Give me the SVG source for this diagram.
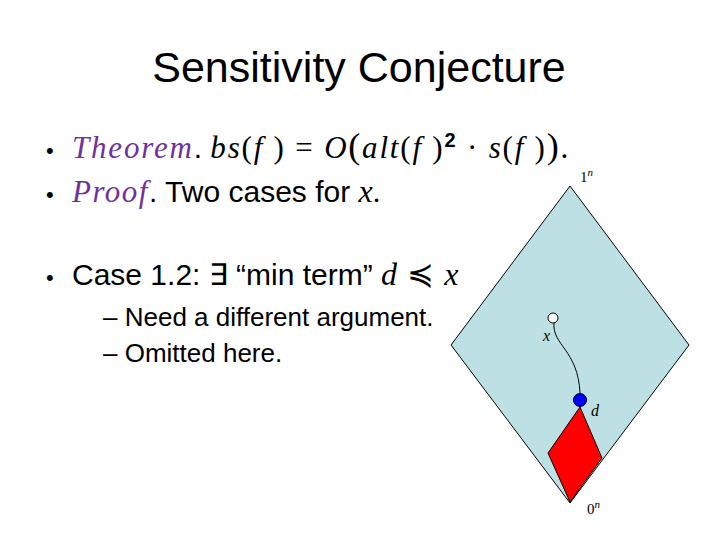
<svg xmlns="http://www.w3.org/2000/svg" width="720" height="540" viewBox="0 0 720 540">
<style>
.s{font-family:"Liberation Sans",Arial,sans-serif;fill:#000}
.m{font-family:"Liberation Serif","DejaVu Serif",serif;font-style:italic}
.r{font-family:"Liberation Serif","DejaVu Serif",serif}
.p{fill:#7030a0}
</style>
<rect width="720" height="540" fill="#fff"/>
<text class="s" x="359" y="82" font-size="43" text-anchor="middle">Sensitivity Conjecture</text>
<g font-size="30">
<text class="s" x="46" y="158" font-size="22">•</text>
<text x="72" y="158" font-size="31" letter-spacing="1.8"><tspan class="m p">Theorem</tspan><tspan class="s" font-size="30" letter-spacing="0">. </tspan><tspan class="m">bs</tspan><tspan class="r">(</tspan><tspan class="m">f </tspan><tspan class="r">) = </tspan><tspan class="m">O</tspan><tspan class="r" font-size="36">(</tspan><tspan class="m">alt</tspan><tspan class="r">(</tspan><tspan class="m">f </tspan><tspan class="r">)</tspan><tspan class="s" fill="#c00000" font-size="20" font-weight="bold" dy="-11">2</tspan><tspan class="r" dy="11"> · </tspan><tspan class="m">s</tspan><tspan class="r">(</tspan><tspan class="m">f </tspan><tspan class="r">)</tspan><tspan class="r" font-size="36">)</tspan><tspan class="r">.</tspan></text>
<text class="s" x="46" y="202" font-size="22">•</text>
<text x="72" y="202"><tspan class="m p" font-size="31" letter-spacing="1.5">Proof</tspan><tspan class="s">. Two cases for </tspan><tspan class="m" font-size="32">x</tspan><tspan class="r">.</tspan></text>
<text class="s" x="46" y="285" font-size="22">•</text>
<text x="72" y="285"><tspan class="s">Case 1.2: ∃ “min term” </tspan><tspan class="m" font-size="32">d</tspan><tspan font-family="DejaVu Sans" font-size="32"> ≼ </tspan><tspan class="m" font-size="32">x</tspan></text>
<text class="s" x="103" y="326" font-size="26">– Need a different argument.</text>
<text class="s" x="103" y="362" font-size="26">– Omitted here.</text>
</g>
<g id="lattice">
<polygon points="570,186 689,345 570,503 451,345" fill="#bde0e5" stroke="#000" stroke-width="1"/>
</g>
<g id="minterm">
<polygon points="580,407 602,458 570,502 548,453" fill="#ff0000" stroke="#000" stroke-width="1"/>
</g>
<g id="connectors">
<path d="M554,323 C552,345 578,350 580,393" fill="none" stroke="#000" stroke-width="1"/>
</g>
<g id="x">
<circle cx="553" cy="318" r="5" fill="#fff" stroke="#000"/>
<text class="m" x="543" y="341" font-size="16">x</text>
</g>
<g id="d">
<circle cx="580" cy="400" r="6.5" fill="#0000ff" stroke="#000"/>
<text class="m" x="591" y="416" font-size="16">d</text>
</g>
<text x="580" y="182" font-size="15" font-family="Liberation Serif">1<tspan class="m" font-size="11" dy="-6">n</tspan></text>
<text x="587" y="514" font-size="15" font-family="Liberation Serif">0<tspan class="m" font-size="11" dy="-6">n</tspan></text>
</svg>
